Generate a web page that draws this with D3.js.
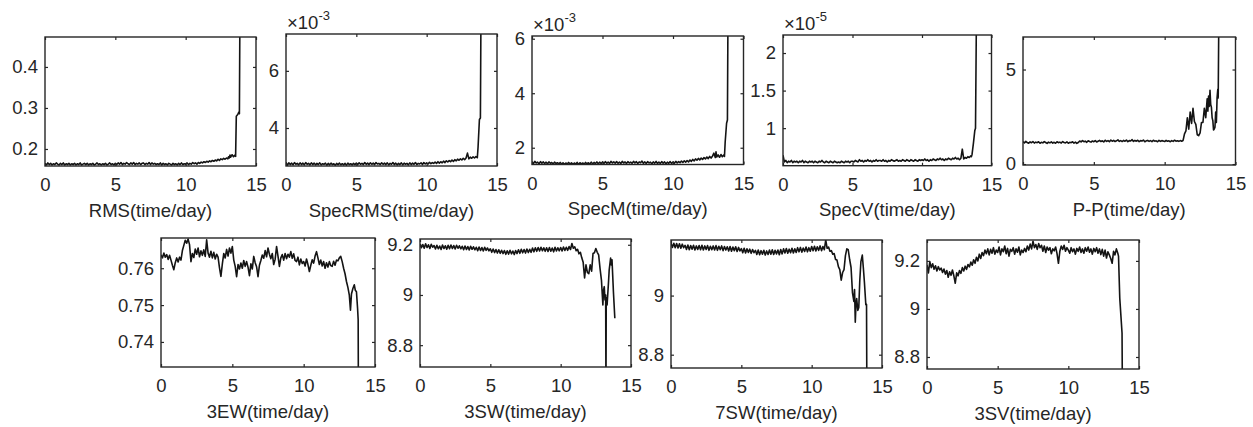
<!DOCTYPE html>
<html>
<head>
<meta charset="utf-8">
<script src="https://cdn.jsdelivr.net/npm/d3@7"></script>
<style>
  body { margin: 0; background: #fff; }
  svg { display: block; }
</style>
</head>
<body>
<div id="chart"></div>
<script>
// sample times (day), shared by every feature up to 12.9 days
var days = [
  0,0.1,0.2,0.3,0.4,0.5,0.6,0.7,0.8,0.9,
  1,1.1,1.2,1.3,1.4,1.5,1.6,1.7,1.8,1.9,
  2,2.1,2.2,2.3,2.4,2.5,2.6,2.7,2.8,2.9,
  3,3.1,3.2,3.3,3.4,3.5,3.6,3.7,3.8,3.9,
  4,4.1,4.2,4.3,4.4,4.5,4.6,4.7,4.8,4.9,
  5,5.1,5.2,5.3,5.4,5.5,5.6,5.7,5.8,5.9,
  6,6.1,6.2,6.3,6.4,6.5,6.6,6.7,6.8,6.9,
  7,7.1,7.2,7.3,7.4,7.5,7.6,7.7,7.8,7.9,
  8,8.1,8.2,8.3,8.4,8.5,8.6,8.7,8.8,8.9,
  9,9.1,9.2,9.3,9.4,9.5,9.6,9.7,9.8,9.9,
  10,10.1,10.2,10.3,10.4,10.5,10.6,10.7,10.8,10.9,
  11,11.1,11.2,11.3,11.4,11.5,11.6,11.7,11.8,11.9,
  12,12.1,12.2,12.3,12.4,12.5,12.6,12.7,12.8,12.9
];

// RMS
var rms = [
  0.164,0.161,0.166,0.162,0.165,0.161,0.164,0.162,0.166,0.163,
  0.161,0.165,0.162,0.166,0.161,0.164,0.162,0.165,0.161,0.164,
  0.162,0.165,0.161,0.164,0.162,0.166,0.161,0.163,0.165,0.162,
  0.165,0.161,0.164,0.162,0.165,0.161,0.163,0.166,0.162,0.164,
  0.161,0.164,0.162,0.165,0.161,0.163,0.166,0.162,0.164,0.161,
  0.165,0.162,0.166,0.163,0.167,0.162,0.165,0.163,0.167,0.164,
  0.162,0.166,0.163,0.167,0.162,0.165,0.163,0.166,0.162,0.165,
  0.166,0.162,0.165,0.163,0.167,0.162,0.166,0.163,0.165,0.162,
  0.164,0.162,0.166,0.161,0.165,0.162,0.164,0.161,0.165,0.163,
  0.161,0.165,0.162,0.164,0.161,0.165,0.162,0.166,0.162,0.164,
  0.163,0.166,0.162,0.165,0.163,0.167,0.164,0.166,0.163,0.167,
  0.165,0.168,0.166,0.169,0.167,0.170,0.168,0.171,0.169,0.172,
  0.170,0.173,0.171,0.175,0.172,0.176,0.174,0.177,0.175,0.178
];
var rmsTail = [[13.0,0.176],[13.05,0.181],[13.1,0.178],[13.15,0.185],[13.2,0.180],[13.3,0.186],[13.4,0.181],
  [13.5,0.185],[13.55,0.182],[13.6,0.28],[13.7,0.284],[13.78,0.29],[13.82,0.286],[13.86,0.55]];

// SpecRMS (x10^-3)
var specRms = [
  2.80,2.69,2.78,2.72,2.77,2.71,2.79,2.73,2.76,2.71,
  2.78,2.72,2.77,2.71,2.79,2.73,2.76,2.71,2.78,2.72,
  2.77,2.71,2.76,2.72,2.78,2.71,2.75,2.73,2.77,2.70,
  2.76,2.71,2.77,2.72,2.75,2.70,2.76,2.72,2.77,2.71,
  2.75,2.71,2.76,2.70,2.77,2.72,2.75,2.71,2.76,2.72,
  2.77,2.72,2.78,2.73,2.76,2.72,2.79,2.73,2.77,2.72,
  2.78,2.73,2.77,2.72,2.79,2.74,2.76,2.72,2.78,2.73,
  2.77,2.72,2.78,2.71,2.76,2.73,2.79,2.72,2.77,2.71,
  2.76,2.72,2.78,2.71,2.77,2.73,2.76,2.71,2.78,2.72,
  2.77,2.73,2.79,2.72,2.76,2.74,2.78,2.72,2.79,2.74,
  2.78,2.74,2.80,2.75,2.79,2.76,2.81,2.76,2.82,2.77,
  2.82,2.78,2.84,2.79,2.85,2.81,2.86,2.82,2.88,2.83,
  2.89,2.85,2.91,2.87,2.92,2.88,2.94,2.89,2.95,3.12
];
var specRmsTail = [[13.0,2.92],[13.1,2.98],[13.2,2.94],[13.3,2.99],[13.4,2.95],[13.5,3.00],[13.6,2.96],
  [13.65,3.3],[13.75,4.3],[13.82,4.35],[13.86,8]];

// SpecM (x10^-3)
var specM = [
  1.48,1.42,1.50,1.44,1.47,1.41,1.49,1.43,1.48,1.42,
  1.47,1.41,1.48,1.43,1.46,1.40,1.47,1.42,1.45,1.41,
  1.46,1.40,1.45,1.39,1.44,1.41,1.46,1.40,1.45,1.39,
  1.44,1.40,1.46,1.39,1.45,1.41,1.44,1.40,1.46,1.41,
  1.45,1.40,1.47,1.41,1.46,1.42,1.48,1.41,1.47,1.42,
  1.48,1.42,1.49,1.43,1.47,1.42,1.50,1.44,1.48,1.43,
  1.49,1.43,1.47,1.42,1.50,1.44,1.48,1.42,1.49,1.44,
  1.47,1.43,1.50,1.44,1.49,1.42,1.48,1.45,1.51,1.43,
  1.48,1.42,1.49,1.44,1.47,1.41,1.48,1.43,1.50,1.42,
  1.47,1.42,1.49,1.43,1.48,1.41,1.47,1.43,1.49,1.42,
  1.48,1.43,1.50,1.44,1.49,1.45,1.51,1.46,1.52,1.47,
  1.53,1.48,1.55,1.50,1.57,1.52,1.59,1.54,1.61,1.55,
  1.62,1.57,1.64,1.59,1.66,1.60,1.68,1.62,1.69,1.80
];
var specMTail = [[13.0,1.64],[13.05,1.85],[13.1,1.66],[13.2,1.74],[13.3,1.65],[13.4,1.75],[13.5,1.67],
  [13.6,1.73],[13.65,1.68],[13.7,2.2],[13.8,2.9],[13.86,3.02],[13.9,7]];

// SpecV (x10^-5)
var specV = [
  0.64,0.55,0.57,0.54,0.56,0.55,0.57,0.54,0.56,0.55,
  0.56,0.54,0.56,0.55,0.57,0.54,0.56,0.55,0.54,0.56,
  0.55,0.56,0.54,0.56,0.55,0.54,0.56,0.55,0.57,0.55,
  0.54,0.56,0.55,0.54,0.56,0.55,0.54,0.56,0.55,0.54,
  0.55,0.54,0.56,0.55,0.54,0.56,0.55,0.56,0.54,0.56,
  0.56,0.55,0.57,0.56,0.55,0.58,0.56,0.57,0.55,0.57,
  0.56,0.58,0.56,0.57,0.55,0.57,0.56,0.58,0.56,0.57,
  0.57,0.56,0.58,0.56,0.57,0.55,0.57,0.56,0.58,0.57,
  0.56,0.57,0.58,0.56,0.57,0.56,0.58,0.57,0.56,0.58,
  0.57,0.56,0.58,0.57,0.56,0.58,0.57,0.56,0.58,0.57,
  0.58,0.57,0.59,0.57,0.58,0.56,0.58,0.57,0.59,0.58,
  0.57,0.59,0.58,0.60,0.58,0.59,0.57,0.59,0.58,0.60,
  0.59,0.58,0.60,0.59,0.61,0.59,0.60,0.58,0.60,0.72
];
var specVTail = [[13.0,0.59],[13.1,0.61],[13.2,0.60],[13.3,0.62],[13.4,0.61],[13.5,0.63],[13.55,0.62],
  [13.6,0.65],[13.7,0.80],[13.8,0.97],[13.85,1.0],[13.92,2.6]];

// P-P
var peakToPeak = [
  1.18,1.12,1.20,1.14,1.10,1.17,1.13,1.19,1.11,1.16,
  1.13,1.18,1.10,1.15,1.12,1.19,1.14,1.09,1.16,1.12,
  1.17,1.11,1.15,1.10,1.18,1.13,1.16,1.11,1.19,1.14,
  1.12,1.17,1.10,1.15,1.13,1.18,1.11,1.16,1.09,1.14,
  1.22,1.17,1.24,1.18,1.21,1.15,1.23,1.19,1.16,1.22,
  1.18,1.24,1.17,1.21,1.25,1.19,1.23,1.17,1.26,1.20,
  1.24,1.18,1.27,1.21,1.25,1.19,1.23,1.28,1.20,1.24,
  1.19,1.25,1.21,1.27,1.18,1.24,1.22,1.29,1.20,1.25,
  1.21,1.26,1.19,1.24,1.22,1.27,1.18,1.23,1.25,1.20,
  1.24,1.19,1.26,1.21,1.23,1.18,1.25,1.20,1.24,1.22,
  1.19,1.25,1.21,1.23,1.18,1.24,1.20,1.26,1.21,1.23,
  1.20,1.24,1.21,1.25,1.60,1.75,2.45,1.85,2.75,2.15,
  2.95,2.25,2.10,1.55,1.50,1.65,2.20,2.20,2.95,2.45
];
var peakToPeakTail = [[13.0,3.45],[13.05,2.8],[13.1,3.6],[13.15,3.05],[13.2,3.9],[13.25,3.15],[13.3,3.0],
  [13.35,2.45],[13.4,2.3],[13.45,1.8],[13.5,1.85],[13.55,1.95],[13.6,2.75],[13.65,2.2],[13.7,3.5],
  [13.75,3.95],[13.78,3.5],[13.82,7.5]];

// 3EW
var ew3 = [
  0.7636,0.7628,0.7641,0.7630,0.7637,0.7624,0.7635,0.7622,0.7608,0.7596,
  0.7615,0.7628,0.7617,0.7630,0.7622,0.7648,0.7662,0.7676,0.7668,0.7679,
  0.7664,0.7618,0.7640,0.7629,0.7652,0.7638,0.7655,0.7631,0.7647,0.7635,
  0.7650,0.7632,0.7677,0.7641,0.7630,0.7646,0.7628,0.7643,0.7625,0.7638,
  0.7630,0.7601,0.7578,0.7612,0.7640,0.7628,0.7651,0.7633,0.7655,0.7641,
  0.7659,0.7622,0.7605,0.7577,0.7610,0.7598,0.7614,0.7600,0.7621,0.7605,
  0.7618,0.7603,0.7580,0.7612,0.7598,0.7632,0.7615,0.7604,0.7577,0.7608,
  0.7621,0.7636,0.7627,0.7648,0.7631,0.7655,0.7638,0.7626,0.7640,0.7610,
  0.7624,0.7659,0.7633,0.7605,0.7628,0.7637,0.7622,0.7640,0.7626,0.7638,
  0.7630,0.7645,0.7627,0.7639,0.7621,0.7618,0.7630,0.7609,0.7625,0.7613,
  0.7618,0.7606,0.7625,0.7610,0.7591,0.7608,0.7623,0.7614,0.7633,0.7645,
  0.7628,0.7610,0.7622,0.7606,0.7618,0.7600,0.7615,0.7603,0.7618,0.7607,
  0.7605,0.7619,0.7608,0.7622,0.7620,0.7628,0.7632,0.7618,0.7600,0.7585
];
var ew3Tail = [[13.0,0.7564],[13.1,0.7548],[13.2,0.7527],[13.28,0.7486],[13.35,0.7530],[13.45,0.7545],
  [13.55,0.7555],[13.62,0.7540],[13.7,0.7536],[13.78,0.7490],[13.82,0.7460],[13.84,0.72]];

// 3SW
var sw3 = [
  9.203,9.188,9.201,9.186,9.204,9.189,9.200,9.185,9.202,9.190,
  9.197,9.183,9.198,9.184,9.195,9.181,9.199,9.185,9.196,9.182,
  9.198,9.184,9.199,9.185,9.197,9.183,9.198,9.186,9.196,9.184,
  9.194,9.180,9.195,9.181,9.193,9.179,9.194,9.182,9.192,9.180,
  9.190,9.176,9.191,9.177,9.189,9.175,9.190,9.178,9.187,9.176,
  9.184,9.170,9.183,9.169,9.181,9.167,9.180,9.166,9.178,9.165,
  9.177,9.162,9.176,9.163,9.178,9.164,9.175,9.161,9.177,9.165,
  9.180,9.166,9.182,9.168,9.181,9.167,9.183,9.169,9.182,9.170,
  9.187,9.172,9.188,9.174,9.189,9.175,9.190,9.176,9.188,9.174,
  9.188,9.173,9.189,9.174,9.187,9.172,9.190,9.175,9.188,9.176,
  9.189,9.175,9.191,9.177,9.190,9.178,9.193,9.181,9.205,9.186,
  9.192,9.176,9.182,9.164,9.170,9.148,9.130,9.068,9.120,9.090,
  9.085,9.120,9.095,9.165,9.168,9.185,9.170,9.160,9.105,9.058
];
var sw3Tail = [[13.0,8.96],[13.05,9.02],[13.1,9.033],[13.15,8.98],[13.2,9.00],[13.22,8.6],[13.24,8.99],
  [13.3,8.96],[13.4,9.05],[13.45,9.1],[13.55,9.147],[13.6,9.12],[13.65,9.14],[13.75,9.013],[13.85,8.907]];

// 7SW
var sw7 = [
  9.178,9.163,9.177,9.162,9.176,9.161,9.175,9.160,9.174,9.162,
  9.170,9.156,9.171,9.155,9.169,9.157,9.170,9.154,9.168,9.156,
  9.169,9.155,9.170,9.154,9.168,9.156,9.169,9.153,9.167,9.155,
  9.168,9.154,9.169,9.153,9.167,9.155,9.168,9.152,9.166,9.154,
  9.165,9.151,9.166,9.150,9.164,9.152,9.165,9.149,9.163,9.151,
  9.159,9.145,9.160,9.144,9.158,9.146,9.157,9.143,9.156,9.145,
  9.153,9.139,9.154,9.138,9.152,9.140,9.153,9.137,9.151,9.139,
  9.154,9.140,9.155,9.139,9.153,9.141,9.154,9.138,9.156,9.141,
  9.158,9.144,9.159,9.143,9.157,9.145,9.160,9.144,9.158,9.146,
  9.162,9.148,9.163,9.147,9.161,9.149,9.164,9.148,9.162,9.150,
  9.166,9.152,9.167,9.151,9.165,9.153,9.168,9.152,9.166,9.155,
  9.188,9.160,9.164,9.150,9.152,9.140,9.142,9.122,9.120,9.098,
  9.088,9.052,9.078,9.088,9.135,9.158,9.155,9.122,9.095,9.010
];
var sw7Tail = [[13.0,8.98],[13.05,9.02],[13.1,8.91],[13.15,8.97],[13.2,8.99],[13.28,8.95],[13.35,8.96],
  [13.42,9.05],[13.5,9.115],[13.6,9.137],[13.68,9.09],[13.75,9.045],[13.85,8.969],[13.9,8.97],[13.93,8.6]];

// 3SV
var sv3 = [
  9.183,9.150,9.197,9.172,9.188,9.165,9.180,9.158,9.176,9.162,
  9.170,9.152,9.166,9.145,9.160,9.132,9.155,9.140,9.162,9.138,
  9.107,9.150,9.138,9.160,9.148,9.172,9.158,9.178,9.165,9.185,
  9.175,9.195,9.182,9.205,9.190,9.215,9.200,9.228,9.210,9.235,
  9.222,9.245,9.230,9.250,9.225,9.248,9.232,9.255,9.228,9.245,
  9.235,9.258,9.225,9.250,9.238,9.262,9.230,9.252,9.220,9.248,
  9.240,9.255,9.228,9.250,9.236,9.258,9.225,9.245,9.235,9.252,
  9.238,9.262,9.245,9.270,9.250,9.282,9.255,9.268,9.248,9.272,
  9.255,9.265,9.240,9.262,9.235,9.258,9.245,9.255,9.230,9.250,
  9.242,9.258,9.230,9.190,9.240,9.262,9.248,9.265,9.240,9.255,
  9.245,9.232,9.255,9.238,9.250,9.228,9.252,9.240,9.258,9.235,
  9.250,9.232,9.255,9.240,9.258,9.236,9.250,9.228,9.252,9.238,
  9.255,9.232,9.250,9.226,9.248,9.220,9.245,9.212,9.238,9.225
];
var sv3Tail = [[13.0,9.210],[13.1,9.190],[13.2,9.240],[13.3,9.225],[13.4,9.250],[13.5,9.232],[13.55,9.220],
  [13.64,9.044],[13.8,8.90],[13.83,8.6]];

var titles = ["RMS(time/day)", "SpecRMS(time/day)", "SpecM(time/day)", "SpecV(time/day)", "P-P(time/day)",
  "3EW(time/day)", "3SW(time/day)", "7SW(time/day)", "3SV(time/day)"];
var exponents = [null, "-3", "-3", "-5", null, null, null, null, null];
var xTicks = [0, 5, 10, 15];
var yTicks = [[0.2, 0.3, 0.4], [4, 6], [2, 4, 6], [1, 1.5, 2], [0, 5],
  [0.74, 0.75, 0.76], [8.8, 9, 9.2], [8.8, 9], [8.8, 9, 9.2]];
var yDomains = [[0.1585, 0.473], [2.67, 7.29], [1.385, 6.1], [0.5, 2.24], [-0.05, 6.72],
  [0.7332, 0.7682], [8.713, 9.223], [8.755, 9.188], [8.75, 9.287]];

// join the shared grid with the tail of each feature
function series(values, tail) {
  return days.map(function (t, i) { return [t, values[i]]; }).concat(tail);
}
var allSeries = [
  series(rms, rmsTail), series(specRms, specRmsTail), series(specM, specMTail),
  series(specV, specVTail), series(peakToPeak, peakToPeakTail),
  series(ew3, ew3Tail), series(sw3, sw3Tail), series(sw7, sw7Tail), series(sv3, sv3Tail)
];

// axes boxes on the page
var boxes = [
  { x: 45, y: 37, w: 211, h: 129 },
  { x: 286, y: 34, w: 211, h: 132 },
  { x: 532, y: 36, w: 211.5, h: 128.5 },
  { x: 783, y: 35, w: 208.5, h: 130.7 },
  { x: 1023, y: 37, w: 212.5, h: 128 },
  { x: 161, y: 238, w: 214, h: 129 },
  { x: 420, y: 239, w: 211, h: 128 },
  { x: 671, y: 240, w: 211, h: 128 },
  { x: 927, y: 240, w: 212, h: 129 }
];

var font = '"Liberation Sans", Arial, Helvetica, sans-serif';
var ink = "#262626";
var fmt = d3.format("~g");

var svg = d3.select("#chart").append("svg")
  .attr("width", 1253)
  .attr("height", 427);

boxes.forEach(function (b, k) {
  var g = svg.append("g").attr("transform", "translate(" + b.x + "," + b.y + ")");

  var x = d3.scaleLinear().domain([0, 15]).range([0, b.w]);
  var y = d3.scaleLinear().domain(yDomains[k]).range([b.h, 0]);

  g.append("clipPath").attr("id", "clip" + k)
    .append("rect").attr("width", b.w).attr("height", b.h);

  g.append("path")
    .datum(allSeries[k])
    .attr("clip-path", "url(#clip" + k + ")")
    .attr("fill", "none")
    .attr("stroke", "#141414")
    .attr("stroke-width", 1.6)
    .attr("stroke-linejoin", "round")
    .attr("d", d3.line().x(function (d) { return x(d[0]); }).y(function (d) { return y(d[1]); }));

  // ticks point inward on all four sides
  g.append("g").attr("transform", "translate(0," + b.h + ")")
    .call(d3.axisBottom(x).tickValues(xTicks).tickSize(-3).tickPadding(12).tickFormat(fmt));
  g.append("g")
    .call(d3.axisTop(x).tickValues(xTicks).tickSize(-3).tickFormat(""));
  g.append("g")
    .call(d3.axisLeft(y).tickValues(yTicks[k]).tickSize(-3).tickPadding(7).tickFormat(fmt));
  g.append("g").attr("transform", "translate(" + b.w + ",0)")
    .call(d3.axisRight(y).tickValues(yTicks[k]).tickSize(-3).tickFormat(""));

  g.selectAll(".domain").remove();
  g.selectAll(".tick line").attr("stroke", ink).attr("stroke-width", 1.2);
  g.selectAll(".tick text")
    .attr("fill", ink)
    .style("font-family", font)
    .style("font-size", "18.5px");

  g.append("rect")
    .attr("width", b.w).attr("height", b.h)
    .attr("fill", "none").attr("stroke", ink).attr("stroke-width", 1.4);

  g.append("text")
    .attr("x", b.w / 2).attr("y", b.h + 50.5)
    .attr("text-anchor", "middle")
    .attr("fill", ink)
    .style("font-family", font)
    .style("font-size", "18.5px")
    .text(titles[k]);

  if (exponents[k]) {
    var ex = g.append("text")
      .attr("x", 1).attr("y", -5)
      .attr("fill", ink)
      .style("font-family", font)
      .style("font-size", "18.5px");
    ex.append("tspan").text("\u00d710");
    ex.append("tspan").attr("dy", -9).style("font-size", "13px").text(exponents[k]);
  }
});
</script>
</body>
</html>
